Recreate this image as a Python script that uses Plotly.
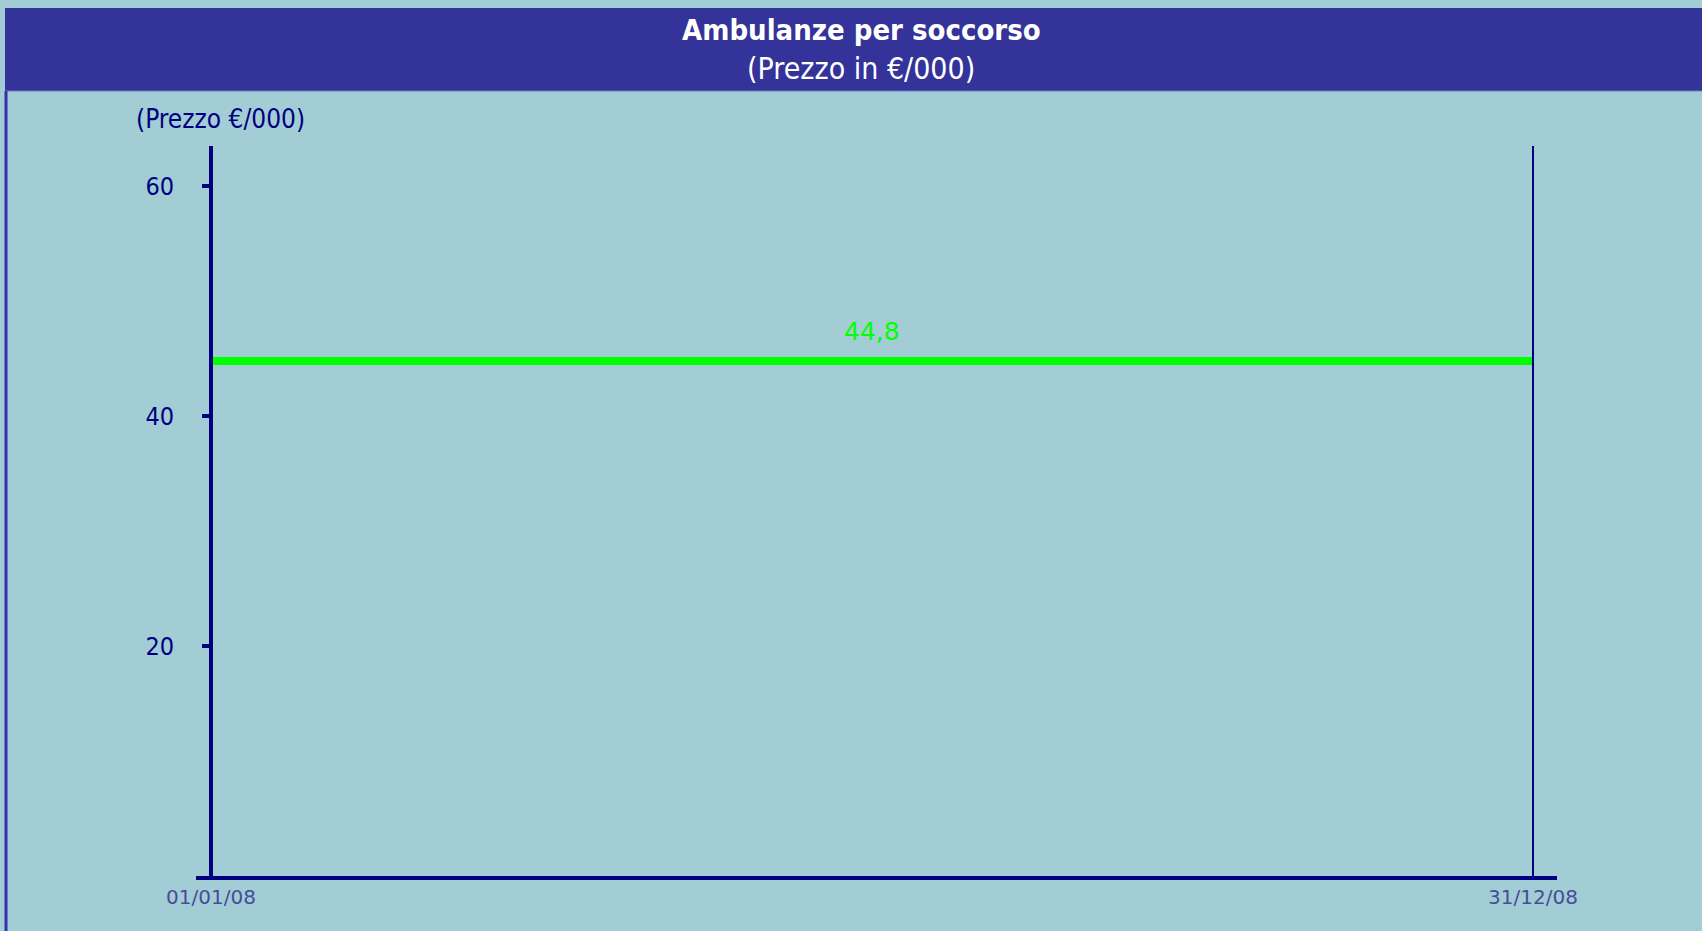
from datetime import datetime

import plotly.graph_objects as go

# data
dates = ["2008-01-01", "2008-12-31"]
date_labels = ["01/01/08", "31/12/08"]
prezzo = [44.8, 44.8]
y_ticks = [20, 40, 60]

title_main = "Ambulanze per soccorso"
title_sub = "(Prezzo in €/000)"
y_title = "(Prezzo €/000)"

BG = "#A3CDD4"
BAND = "#333399"
NAVY = "#000080"
GREEN = "#00FF00"
FONT = "DejaVu Sans Condensed, DejaVu Sans, sans-serif"
FONT_WIDE = "DejaVu Sans, sans-serif"

W, H = 1702, 931
# plot area in pixels
L, R, T, B = 196, 1557, 146, 876


def px(x):
    return (x - L) / (R - L)


def py(y):
    return (B - y) / (B - T)


d0 = datetime.fromisoformat(dates[0])
d1 = datetime.fromisoformat(dates[-1])
span = d1 - d0
# the dates sit at 211px and 1533px inside the axis line
x_range = [d0 - span * (15 / 1322), d1 + span * (24 / 1322)]
mid = d0 + span / 2

fig = go.Figure()
fig.add_trace(go.Scatter(
    x=dates, y=prezzo, mode="lines",
    line=dict(color=GREEN, width=8),
    hoverinfo="skip", showlegend=False,
))

fig.add_annotation(
    x=mid, y=prezzo[0], text=f"{prezzo[0]:.1f}".replace(".", ","),
    showarrow=False, yshift=29, yanchor="middle",
    font=dict(family=FONT_WIDE, size=25, color=GREEN),
)

# header band
fig.add_shape(type="rect", xref="paper", yref="paper",
              x0=px(5), x1=px(W), y0=py(91), y1=py(8),
              fillcolor=BAND, line=dict(width=0), layer="below")
fig.add_shape(type="line", xref="paper", yref="paper",
              x0=px(5), x1=px(W), y0=py(91), y1=py(91),
              line=dict(color="#7A7AC8", width=1))
# left border
fig.add_shape(type="line", xref="paper", yref="paper",
              x0=px(6), x1=px(6), y0=py(H), y1=py(91),
              line=dict(color="#3333AA", width=3))
# right end line
fig.add_shape(type="line", xref="x", yref="paper",
              x0=dates[-1], x1=dates[-1], y0=0, y1=1,
              line=dict(color=NAVY, width=2))

fig.add_annotation(x=px(861), y=py(30), xref="paper", yref="paper",
                   xanchor="center", yanchor="middle",
                   text=f"<b>{title_main}</b>", showarrow=False,
                   font=dict(family=FONT, size=29, color="white"))
fig.add_annotation(x=px(861), y=py(68), xref="paper", yref="paper",
                   xanchor="center", yanchor="middle",
                   text=title_sub, showarrow=False,
                   font=dict(family=FONT, size=30, color="white"))
fig.add_annotation(x=px(134), y=py(119), xref="paper", yref="paper",
                   xanchor="left", yanchor="middle",
                   text=y_title, showarrow=False,
                   font=dict(family=FONT, size=26, color=NAVY))

fig.update_layout(
    width=W, height=H,
    margin=dict(l=L, r=W - R, t=T, b=H - B, pad=0),
    paper_bgcolor=BG, plot_bgcolor=BG,
    showlegend=False,
    xaxis=dict(
        type="date", range=x_range,
        tickvals=dates, ticktext=date_labels,
        showgrid=False, zeroline=False,
        showline=True, linecolor=NAVY, linewidth=4,
        ticks="", tickfont=dict(family=FONT_WIDE, size=20, color="#474C9A"),
    ),
    yaxis=dict(
        range=[0, 63.5], tickvals=y_ticks,
        anchor="free", position=px(211),
        showgrid=False, zeroline=False,
        showline=True, linecolor=NAVY, linewidth=4,
        ticks="outside", ticklen=7, tickwidth=4, tickcolor=NAVY,
        ticklabelstandoff=23,
        tickfont=dict(family=FONT, size=25, color=NAVY),
    ),
)

fig.write_html("out.html", config={"displayModeBar": False},
               post_script="document.body.style.margin='0';")
